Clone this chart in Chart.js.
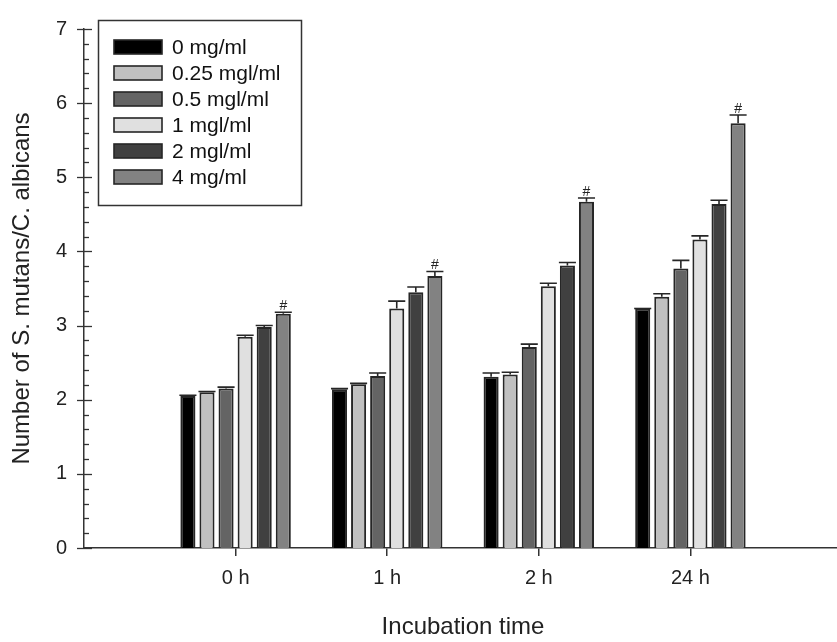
<!DOCTYPE html>
<html>
<head>
<meta charset="utf-8">
<script src="https://cdn.jsdelivr.net/npm/chart.js@4.4.0/dist/chart.umd.min.js"></script>
<style>
  html, body { margin: 0; padding: 0; background: #fff; overflow: hidden; }
</style>
</head>
<body>
<canvas id="grafico" width="852" height="642" style="width:852px;height:642px"></canvas>
<script>
// tiempos de incubacion (eje x)
let tiempos = ['0 h', '1 h', '2 h', '24 h'];
// concentraciones (series)
let dosis = ['0 mg/ml', '0.25 mgl/ml', '0.5 mgl/ml', '1 mgl/ml', '2 mgl/ml', '4 mg/ml'];
// valores medios, uno por tiempo
let dosis0 = [2.05, 2.14, 2.31, 3.23];
let dosis025 = [2.10, 2.21, 2.34, 3.39];
let dosis05 = [2.15, 2.32, 2.71, 3.77];
let dosis1 = [2.85, 3.23, 3.53, 4.16];
let dosis2 = [2.98, 3.45, 3.81, 4.64];
let dosis4 = [3.16, 3.67, 4.67, 5.73];
// barras de error (solo hacia arriba)
let error0 = [0.01, 0.01, 0.05, 0];
let error025 = [0.01, 0.01, 0.03, 0.04];
let error05 = [0.02, 0.04, 0.04, 0.11];
let error1 = [0.02, 0.10, 0.04, 0.05];
let error2 = [0.02, 0.07, 0.04, 0.05];
let error4 = [0.02, 0.06, 0.05, 0.11];
// marcas sobre la serie de 4 mg/ml
let marcas4 = ['#', '#', '#', '#'];
let ticksY = [0, 1, 2, 3, 4, 5, 6, 7];

let colores = ['#000000', '#c0c0c0', '#646464', '#e0e0e0', '#404040', '#828282'];
let valores = [dosis0, dosis025, dosis05, dosis1, dosis2, dosis4];
let errores = [error0, error025, error05, error1, error2, error4];

// una categoria vacia a cada lado, como en el original
let etiquetas = [''].concat(tiempos, ['']);
function rellenar(arr) {
  return [null].concat(arr, [null]);
}

let datasets = [];
for (let i = 0; i < dosis.length; i++) {
  datasets.push({
    label: dosis[i],
    data: rellenar(valores[i]),
    errores: rellenar(errores[i]),
    marcas: i === dosis.length - 1 ? rellenar(marcas4) : null,
    backgroundColor: colores[i],
    borderColor: '#262626',
    borderWidth: 2,
    categoryPercentage: 0.755,
    barPercentage: 0.79
  });
}

// dibuja ticks del eje y, errores, marcas y leyenda
let extras = {
  id: 'extras',
  afterDatasetsDraw(chart) {
    let ctx = chart.ctx;
    let y = chart.scales.y;
    let izq = chart.chartArea.left;
    ctx.save();

    ctx.strokeStyle = '#333';
    ctx.lineWidth = 1.3;
    for (let i = 0; i <= 35; i++) {
      let py = Math.round(y.getPixelForValue(i / 5)) + 0.5;
      ctx.beginPath();
      if (i % 5 === 0) {
        ctx.moveTo(izq - 7, py);
        ctx.lineTo(izq + 8, py);
      } else {
        ctx.moveTo(izq, py);
        ctx.lineTo(izq + 5, py);
      }
      ctx.stroke();
    }

    chart.data.datasets.forEach(function (ds, d) {
      let meta = chart.getDatasetMeta(d);
      meta.data.forEach(function (barra, i) {
        let v = ds.data[i];
        if (v === null) return;
        let e = ds.errores[i];
        let top = y.getPixelForValue(v);
        let cap = y.getPixelForValue(v + e);
        let w = barra.width / 2 + 1;
        ctx.strokeStyle = '#262626';
        ctx.lineWidth = 1.6;
        ctx.beginPath();
        ctx.moveTo(barra.x, top);
        ctx.lineTo(barra.x, cap);
        ctx.moveTo(barra.x - w, cap);
        ctx.lineTo(barra.x + w, cap);
        ctx.stroke();
        if (ds.marcas && ds.marcas[i]) {
          ctx.fillStyle = '#222';
          ctx.font = '14px Arial, "Liberation Sans"';
          ctx.textAlign = 'center';
          ctx.textBaseline = 'alphabetic';
          ctx.fillText(ds.marcas[i], barra.x, cap - 2);
        }
      });
    });

    // leyenda
    ctx.fillStyle = '#fff';
    ctx.fillRect(98.5, 20.5, 203, 185);
    ctx.strokeStyle = '#333';
    ctx.lineWidth = 1.5;
    ctx.strokeRect(98.5, 20.5, 203, 185);
    ctx.font = '21px Arial, "Liberation Sans"';
    ctx.textAlign = 'left';
    ctx.textBaseline = 'middle';
    chart.data.datasets.forEach(function (ds, k) {
      let cy = 47 + k * 26;
      ctx.fillStyle = ds.backgroundColor;
      ctx.fillRect(114, cy - 7, 48, 14);
      ctx.strokeStyle = '#262626';
      ctx.lineWidth = 1.6;
      ctx.strokeRect(114, cy - 7, 48, 14);
      ctx.fillStyle = '#111';
      ctx.fillText(ds.label, 172, cy + 1);
    });
    ctx.restore();
  }
};

let ctx = document.getElementById('grafico').getContext('2d');
let grafico = new Chart(ctx, {
  type: 'bar',
  data: { labels: etiquetas, datasets: datasets },
  plugins: [extras],
  options: {
    responsive: false,
    animation: false,
    layout: { padding: { top: 17, right: 0, bottom: 0, left: 0 } },
    plugins: {
      legend: { display: false },
      tooltip: { enabled: false }
    },
    font: { family: 'Arial, "Liberation Sans"' },
    scales: {
      x: {
        offset: false,
        grid: {
          offset: false,
          drawOnChartArea: false,
          drawTicks: true,
          tickLength: 8,
          lineWidth: 1.5,
          color: function (c) {
            return (c.index === 0 || c.index === etiquetas.length - 1) ? 'rgba(0,0,0,0)' : '#333';
          }
        },
        border: { display: true, color: '#333', width: 1.5 },
        ticks: { color: '#222', font: { size: 20 }, padding: 10, maxRotation: 0, autoSkip: false },
        title: { display: true, text: 'Incubation time', color: '#222', font: { size: 24 }, padding: { top: 0, bottom: 0 } },
        afterFit: function (s) { s.height = 94; }
      },
      y: {
        min: ticksY[0],
        max: ticksY[ticksY.length - 1],
        grid: { display: false, drawTicks: false },
        border: { display: true, color: '#333', width: 1.5 },
        ticks: { stepSize: 1, color: '#222', font: { size: 20 }, padding: 17 },
        title: { display: true, text: 'Number of S. mutans/C. albicans', color: '#222', font: { size: 24 }, padding: { top: 8, bottom: 0 } },
        afterFit: function (s) { s.width = 84; }
      }
    }
  }
});
</script>
</body>
</html>
